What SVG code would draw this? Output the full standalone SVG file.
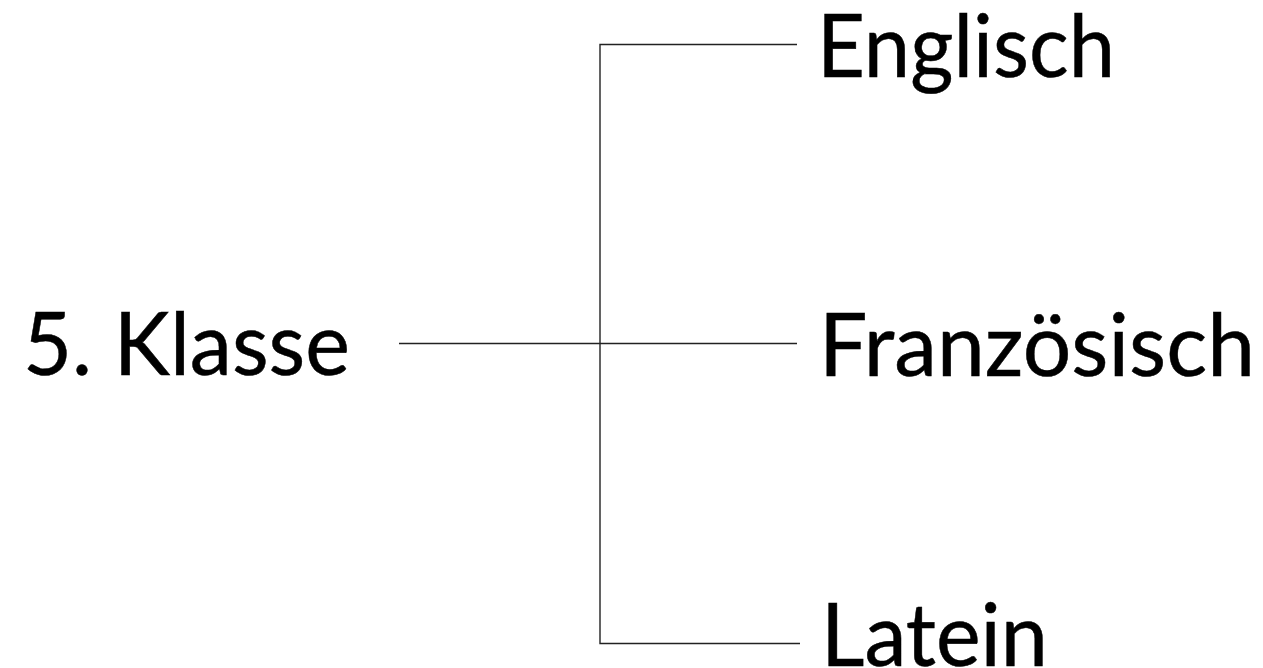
<svg xmlns="http://www.w3.org/2000/svg" width="1263" height="668" viewBox="0 0 1263 668">
<style>
.lbl{font-family:Lato,"Open Sans","Liberation Sans",sans-serif;font-size:87px;fill:#000;stroke:#000;stroke-width:0.5}
.con{stroke:#222;stroke-width:1.4;fill:none}
</style>
<rect width="1263" height="668" fill="#fff"/>
<g id="connectors">
<path class="con" d="M399,343.5 H797"/>
<path class="con" d="M797,44.5 H600 V643.5 H800"/>
</g>
<g id="node-klasse"><text class="lbl" x="23" y="375" textLength="327" lengthAdjust="spacingAndGlyphs">5. Klasse</text></g>
<g id="node-englisch"><text class="lbl" x="817" y="77" textLength="298" lengthAdjust="spacingAndGlyphs">Englisch</text></g>
<g id="node-franzoesisch"><text class="lbl" x="819" y="376" textLength="436" lengthAdjust="spacingAndGlyphs">Französisch</text></g>
<g id="node-latein"><text class="lbl" x="821" y="666" textLength="227" lengthAdjust="spacingAndGlyphs">Latein</text></g>
</svg>
